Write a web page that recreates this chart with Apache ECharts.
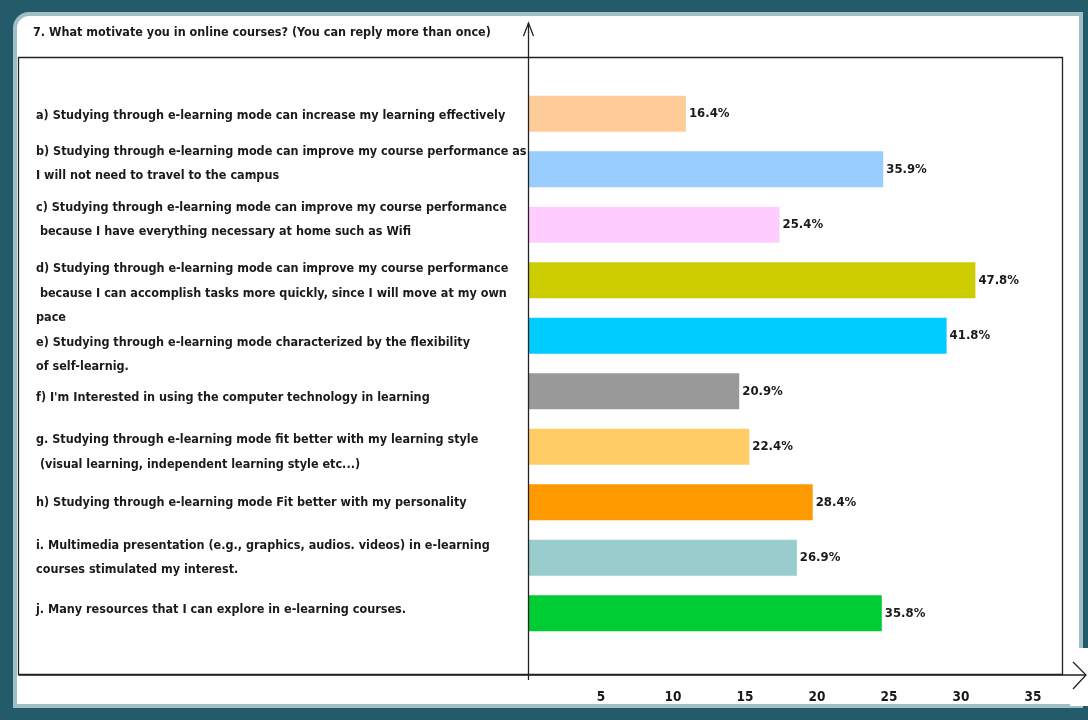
<!DOCTYPE html>
<html>
<head>
<meta charset="utf-8">
<script src="https://cdn.jsdelivr.net/npm/echarts@6/dist/echarts.min.js"></script>
<style>html,body{margin:0;padding:0;background:#fff}#chart{width:1088px;height:720px}</style>
</head>
<body>
<div id="chart"></div>
<script>
const titleText = '7. What motivate you in online courses? (You can reply more than once)';
const categories = [
  'a) Studying through e-learning mode can increase my learning effectively',
  'b) Studying through e-learning mode can improve my course performance as\nI will not need to travel to the campus',
  'c) Studying through e-learning mode can improve my course performance\n because I have everything necessary at home such as Wifi',
  'd) Studying through e-learning mode can improve my course performance\n because I can accomplish tasks more quickly, since I will move at my own\npace',
  'e) Studying through e-learning mode characterized by the flexibility\nof self-learnig.',
  "f) I'm Interested in using the computer technology in learning",
  'g. Studying through e-learning mode fit better with my learning style\n (visual learning, independent learning style etc...)',
  'h) Studying through e-learning mode Fit better with my personality',
  'i. Multimedia presentation (e.g., graphics, audios. videos) in e-learning\ncourses stimulated my interest.',
  'j. Many resources that I can explore in e-learning courses.'
];
const values = [10.9, 24.6, 17.4, 31.0, 29.0, 14.6, 15.3, 19.7, 18.6, 24.5];
const valueLabels = ['16.4%', '35.9%', '25.4%', '47.8%', '41.8%', '20.9%', '22.4%', '28.4%', '26.9%', '35.8%'];
const colors = ['#FFCC99', '#99CCFF', '#FFCCFF', '#CCCC00', '#00CCFF', '#999999', '#FFCC66', '#FF9900', '#99CCCC', '#00CC33'];
const tickLabels = [5, 10, 15, 20, 25, 30, 35];

const FONT = '"Liberation Sans Narrow", "Arial Narrow", "DejaVu Sans Condensed", "Liberation Sans", sans-serif';
// vertical nudge (px) of each category label relative to its bar
const labelShift = [1.5, -5.5, -5, 13, 19, 6, 5.5, 0, 0, -4];

function catFormatter(value, index) {
  const lines = value.split('\n').map(l => '{t|' + l + '}');
  const s = labelShift[index] || 0;
  if (s > 0) lines.unshift('{s' + index + '| }');
  if (s < 0) lines.push('{s' + index + '| }');
  return lines.join('\n');
}
const rich = { t: { width: 492, align: 'left', lineHeight: 24.5, fontFamily: FONT, fontSize: 12.5, fontWeight: 'bold', color: '#1a1a1a' } };
labelShift.forEach((s, i) => { if (s) rich['s' + i] = { fontSize: 1, lineHeight: Math.abs(s) * 2, width: 492 }; });

const chart = echarts.init(document.getElementById('chart'));
const option = {
  backgroundColor: '#235b6b',
  animation: false,
  title: {
    text: titleText,
    left: 28, top: 21,
    textStyle: { fontFamily: FONT, fontSize: 12.5, fontWeight: 'bold', color: '#1a1a1a' }
  },
  grid: { left: 529, right: 26.2, top: 86, bottom: 79, containLabel: false, outerBoundsMode: 'none' },
  xAxis: {
    type: 'value', min: 0, max: 37, interval: 5, offset: 33,
    axisLine: { show: false }, axisTick: { show: false }, splitLine: { show: false },
    axisLabel: {
      margin: 16, fontFamily: FONT, fontSize: 13.5, fontWeight: 'bold', color: '#1a1a1a',
      formatter: v => (tickLabels.indexOf(v) >= 0 ? String(v) : '')
    }
  },
  yAxis: {
    type: 'category', inverse: true,
    data: categories,
    axisLine: { show: false }, axisTick: { show: false },
    axisLabel: {
      margin: 1, interval: 0, formatter: catFormatter, rich: rich,
      fontFamily: FONT, fontSize: 12.5, fontWeight: 'bold', color: '#1a1a1a'
    }
  },
  graphic: [
    { type: 'rect', z: -10, shape: { x: 15, y: 14, width: 1066, height: 692, r: [14, 0, 0, 0] },
      style: { fill: '#ffffff', stroke: '#9fbfc7', lineWidth: 4 } },
    { type: 'rect', z: -9, shape: { x: 1070, y: 648, width: 18, height: 58 }, style: { fill: '#ffffff' } },
    { type: 'rect', z: -8, shape: { x: 18.5, y: 57.5, width: 1044, height: 617 },
      style: { fill: 'none', stroke: '#222', lineWidth: 1.3 } },
    { type: 'line', z: 10, shape: { x1: 528.5, y1: 23, x2: 528.5, y2: 680 }, style: { stroke: '#222', lineWidth: 1.3 } },
    { type: 'polyline', z: 10, shape: { points: [[523.5, 36], [528.5, 23], [533.5, 36]] }, style: { stroke: '#222', lineWidth: 1.3, fill: 'none' } },
    { type: 'line', z: 10, shape: { x1: 18.5, y1: 675, x2: 1085, y2: 675 }, style: { stroke: '#222', lineWidth: 1.3 } },
    { type: 'polyline', z: 10, shape: { points: [[1073, 662], [1086, 675], [1073, 689]] }, style: { stroke: '#222', lineWidth: 1.3, fill: 'none' } }
  ],
  series: [{
    type: 'bar',
    barWidth: 36,
    data: values.map((v, i) => ({ value: v, itemStyle: { color: colors[i] } })),
    label: {
      show: true, position: 'right', distance: 3,
      fontFamily: FONT, fontSize: 13, fontWeight: 'bold', color: '#1a1a1a',
      formatter: p => valueLabels[p.dataIndex]
    }
  }]
};
chart.setOption(option);
</script>
</body>
</html>
